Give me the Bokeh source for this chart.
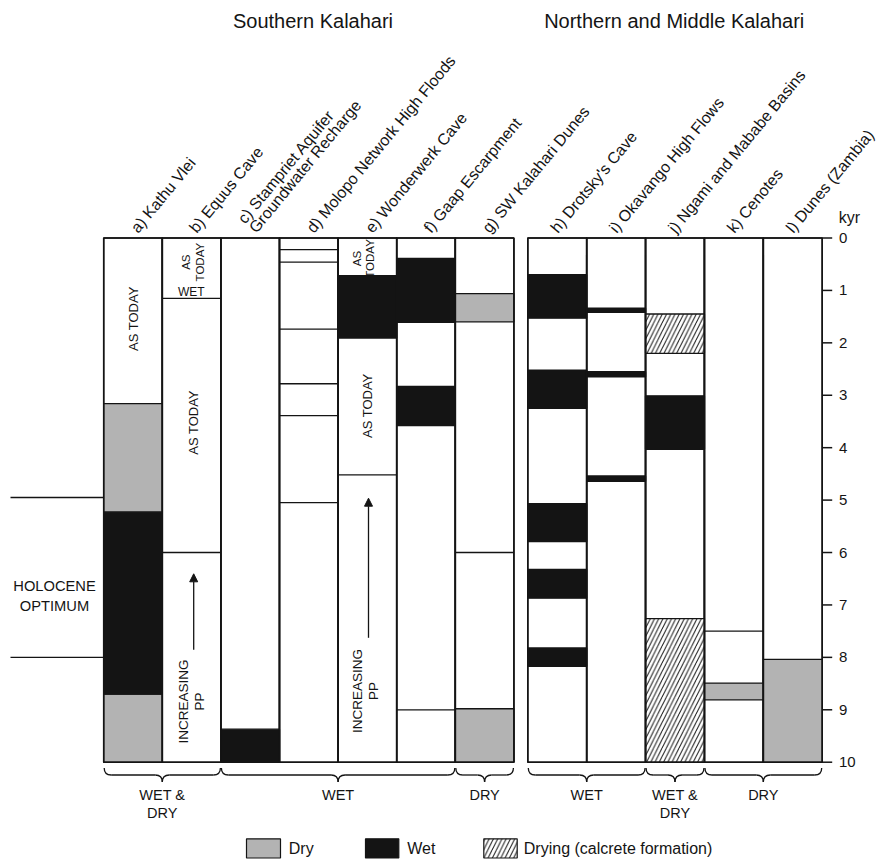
import math
from bokeh.plotting import figure
from bokeh.models import Range1d, Arrow, NormalHead
from bokeh.core.properties import value
from bokeh.embed import file_html
from bokeh.resources import INLINE

# ---------------- data ----------------
region_titles = ["Southern Kalahari", "Northern and Middle Kalahari"]
site_labels = ["a) Kathu Vlei", "b) Equus Cave",
               "c) Stampriet Aquifer\nGroundwater Recharge",
               "d) Molopo Network High Floods", "e) Wonderwerk Cave",
               "f) Gaap Escarpment", "g) SW Kalahari Dunes",
               "h) Drotsky's Cave", "i) Okavango High Flows",
               "j) Ngami and Mababe Basins", "k) Cenotes", "l) Dunes (Zambia)"]

# dry periods (grey): site index, start kyr, end kyr
dry_site = [0, 0, 6, 6, 10, 11]
dry_start = [3.16, 8.70, 1.06, 8.98, 8.49, 8.04]
dry_end = [5.23, 10.0, 1.60, 10.0, 8.81, 10.0]
# wet periods (black)
wet_site = [0, 2, 4, 5, 5, 7, 7, 7, 7, 7, 8, 8, 8, 9]
wet_start = [5.23, 9.37, 0.72, 0.39, 2.83, 0.70, 2.52, 5.07, 6.32, 7.82, 1.34, 2.55, 4.54, 3.01]
wet_end = [8.70, 10.0, 1.91, 1.61, 3.58, 1.53, 3.25, 5.79, 6.87, 8.17, 1.42, 2.65, 4.64, 4.03]
# drying (calcrete formation, hatched)
drying_site = [9, 9]
drying_start = [1.45, 7.26]
drying_end = [2.20, 10.0]
# other period boundaries (lines)
boundary_site = [1, 1, 3, 3, 3, 3, 3, 3, 4, 5, 6, 10]
boundary_kyr = [1.15, 6.0, 0.22, 0.46, 1.74, 2.78, 3.39, 5.05, 4.52, 9.0, 6.0, 7.5]

holocene_optimum = [4.95, 8.0]
kyr_ticks = [0, 1, 2, 3, 4, 5, 6, 7, 8, 9, 10]
kyr_tick_labels = ["0", "1", "2", "3", "4", "5", "6", "7", "8", "9", "10"]

group_labels = ["WET &\nDRY", "WET", "DRY", "WET", "WET &\nDRY", "DRY"]
group_first = [0, 2, 6, 7, 9, 10]
group_last = [1, 5, 6, 8, 9, 11]

legend_labels = ["Dry", "Wet", "Drying (calcrete formation)"]

# in-column notes: text, kyr
note_text = ["AS TODAY", "AS\nTODAY", "WET", "AS TODAY", "INCREASING\nPP",
             "AS\nTODAY", "AS TODAY", "INCREASING\nPP"]
note_kyr = [1.54, 0.46, 1.03, 3.52, 8.84, 0.39, 3.20, 8.64]

# ---------------- layout ----------------
K0, KS = 237.5, 52.42          # pixel of 0 kyr, pixels per kyr
W, H = 877, 859
def Y(px):
    return (px - K0) / KS

FONT = value("Liberation Sans")
INK = "#141414"
GRAY = "#b3b3b3"

x_left = [103.2 + i * 58.6 for i in range(8)]
x_right = [527.3 + i * 58.88 for i in range(6)]
col_l = x_left[:7] + x_right[:5]
col_r = x_left[1:] + x_right[1:]
col_c = [(a + b) / 2 for a, b in zip(col_l, col_r)]
axis_x = col_r[-1]

p = figure(width=W, height=H, x_range=Range1d(0, W),
           y_range=Range1d(Y(H), Y(0)),
           x_axis_type=None, y_axis_type=None, toolbar_location=None,
           output_backend="svg", min_border=0, outline_line_color=None)
p.background_fill_color = "white"
p.border_fill_color = "white"

# columns
p.quad(left=col_l, right=col_r, top=0, bottom=10, fill_color="white",
       line_color=INK, line_width=1.4)

p.quad(left=[col_l[i] for i in dry_site], right=[col_r[i] for i in dry_site],
       top=dry_start, bottom=dry_end, fill_color=GRAY, line_color=INK, line_width=1.3)
p.quad(left=[col_l[i] for i in wet_site], right=[col_r[i] for i in wet_site],
       top=wet_start, bottom=wet_end, fill_color=INK, line_color=INK, line_width=1.3)
p.quad(left=[col_l[i] for i in drying_site], right=[col_r[i] for i in drying_site],
       top=drying_start, bottom=drying_end, fill_color="white",
       hatch_pattern="/", hatch_color=INK, hatch_weight=1.0, hatch_scale=8.5,
       line_color=INK, line_width=1.3)
p.segment(x0=[col_l[i] for i in boundary_site], x1=[col_r[i] for i in boundary_site],
          y0=boundary_kyr, y1=boundary_kyr, line_color=INK, line_width=1.3)
p.quad(left=col_l, right=col_r, top=0, bottom=10, fill_color=None,
       line_color=INK, line_width=1.6)

# kyr axis
p.segment(x0=axis_x, x1=axis_x + 10, y0=kyr_ticks, y1=kyr_ticks,
          line_color=INK, line_width=1.5)
p.text(x=axis_x + 16.8, y=kyr_ticks, text=kyr_tick_labels, text_font=FONT,
       text_font_size="15px", text_align="left", text_baseline="middle",
       text_color=INK)
p.text(x=[838.3], y=[Y(216.7)], text=["kyr"], text_font=FONT,
       text_font_size="16px", text_align="left", text_baseline="middle",
       text_color=INK)

# site labels (rotated)
ang = math.radians(50.5)
l1_x, l1_y, l1_t = [], [], []
l2_x, l2_y, l2_t = [], [], []
for i, lab in enumerate(site_labels):
    dx = 1.0 if i < 7 else -3.5
    parts = lab.split("\n")
    if len(parts) == 1:
        l1_x.append(col_c[i] + dx); l1_y.append(Y(230)); l1_t.append(lab)
    else:
        l1_x.append(col_c[i] + dx + 1); l1_y.append(Y(230)); l1_t.append(parts[1])
        l2_x.append(col_c[i] + dx + 1); l2_y.append(Y(230)); l2_t.append(parts[0])
p.text(x=l1_x, y=l1_y, text=l1_t, angle=ang, text_font=FONT,
       text_font_size="16px", text_align="left", text_baseline="alphabetic",
       text_color=INK)
p.text(x=l2_x, y=l2_y, text=l2_t, angle=ang, text_font=FONT,
       text_font_size="16px", text_align="left", text_baseline="alphabetic",
       text_color=INK, x_offset=-14.5 * math.sin(ang), y_offset=-14.5 * math.cos(ang))

# region titles
p.text(x=[312.5, 673.7], y=[Y(20), Y(20)], text=region_titles, text_font=FONT,
       text_font_size="20px", text_align="center", text_baseline="middle",
       text_color=INK)

# Holocene optimum
p.segment(x0=10, x1=col_l[0], y0=holocene_optimum, y1=holocene_optimum,
          line_color=INK, line_width=1.3)
p.text(x=[54], y=[(holocene_optimum[0] + holocene_optimum[1]) / 2 + 0.35],
       text=["HOLOCENE\nOPTIMUM"], text_font=FONT, text_font_size="14.7px",
       text_align="center", text_baseline="middle", text_line_height=1.22,
       text_color=INK)

# notes inside columns
note_x = [132.5, 192.5, 190.8, 193.3, 190.9, 363.3, 366.7, 365.0]
note_size = ["13px", "11.5px", "12px", "13px", "13.5px", "11.5px", "13px", "13.5px"]
note_ang = [math.pi / 2, math.pi / 2, 0, math.pi / 2, math.pi / 2,
            math.pi / 2, math.pi / 2, math.pi / 2]
p.text(x=note_x, y=note_kyr, text=note_text, angle=note_ang, text_font=FONT,
       text_font_size=note_size, text_align="center", text_baseline="middle",
       text_line_height=1.1, text_color=INK)

# arrows (increasing PP)
for ax, y0, y1 in [(193.2, Y(649.3), Y(573.3)), (368.0, Y(637.3), Y(497.7))]:
    p.add_layout(Arrow(end=NormalHead(size=8, fill_color=INK, line_color=INK),
                       x_start=ax, y_start=y0, x_end=ax, y_end=y1,
                       line_color=INK, line_width=1.3))

# braces
yt, ym, yb, r = Y(767.5), Y(774.5), Y(781.5), 7.0
qx0, qy0, qx1, qy1, qcx, qcy = [], [], [], [], [], []
sx0, sx1 = [], []
for g0, g1 in zip(group_first, group_last):
    xa, xb = col_l[g0] + 0.5, col_r[g1] - 0.5
    xc = (xa + xb) / 2
    for (a0, b0, a1, b1, ca, cb) in [
        (xa, yt, xa + r, ym, xa, ym),
        (xc - r, ym, xc, yb, xc, ym),
        (xc, yb, xc + r, ym, xc, ym),
        (xb - r, ym, xb, yt, xb, ym)]:
        qx0.append(a0); qy0.append(b0); qx1.append(a1); qy1.append(b1)
        qcx.append(ca); qcy.append(cb)
    sx0 += [xa + r, xc + r]
    sx1 += [xc - r, xb - r]
p.quadratic(x0=qx0, y0=qy0, x1=qx1, y1=qy1, cx=qcx, cy=qcy,
            line_color=INK, line_width=1.3)
p.segment(x0=sx0, x1=sx1, y0=ym, y1=ym, line_color=INK, line_width=1.3)

g1_x, g1_t, g2_x, g2_t = [], [], [], []
for lab, g0, g1 in zip(group_labels, group_first, group_last):
    xc = (col_l[g0] + col_r[g1]) / 2
    parts = lab.split("\n")
    g1_x.append(xc); g1_t.append(parts[0])
    if len(parts) > 1:
        g2_x.append(xc); g2_t.append(parts[1])
p.text(x=g1_x, y=Y(794.3), text=g1_t, text_font=FONT, text_font_size="14.5px",
       text_align="center", text_baseline="middle", text_color=INK)
p.text(x=g2_x, y=Y(812.3), text=g2_t, text_font=FONT, text_font_size="14.5px",
       text_align="center", text_baseline="middle", text_color=INK)

# legend
lg_l = [246.0, 365.0, 483.3]
lg_r = [280.0, 398.3, 516.7]
p.quad(left=lg_l[:2], right=lg_r[:2], top=Y(838.3), bottom=Y(857.5),
       fill_color=[GRAY, INK], line_color=INK, line_width=1.2)
p.quad(left=lg_l[2:], right=lg_r[2:], top=Y(838.3), bottom=Y(857.5),
       fill_color="white", hatch_pattern="/", hatch_color=INK, hatch_weight=1.0,
       hatch_scale=8.5, line_color=INK, line_width=1.2)
p.text(x=[288.3, 406.7, 523.3], y=Y(847.7), text=legend_labels, text_font=FONT,
       text_font_size="16px", text_align="left", text_baseline="middle",
       text_color=INK)

open("out.html", "w").write(file_html(p, INLINE))
